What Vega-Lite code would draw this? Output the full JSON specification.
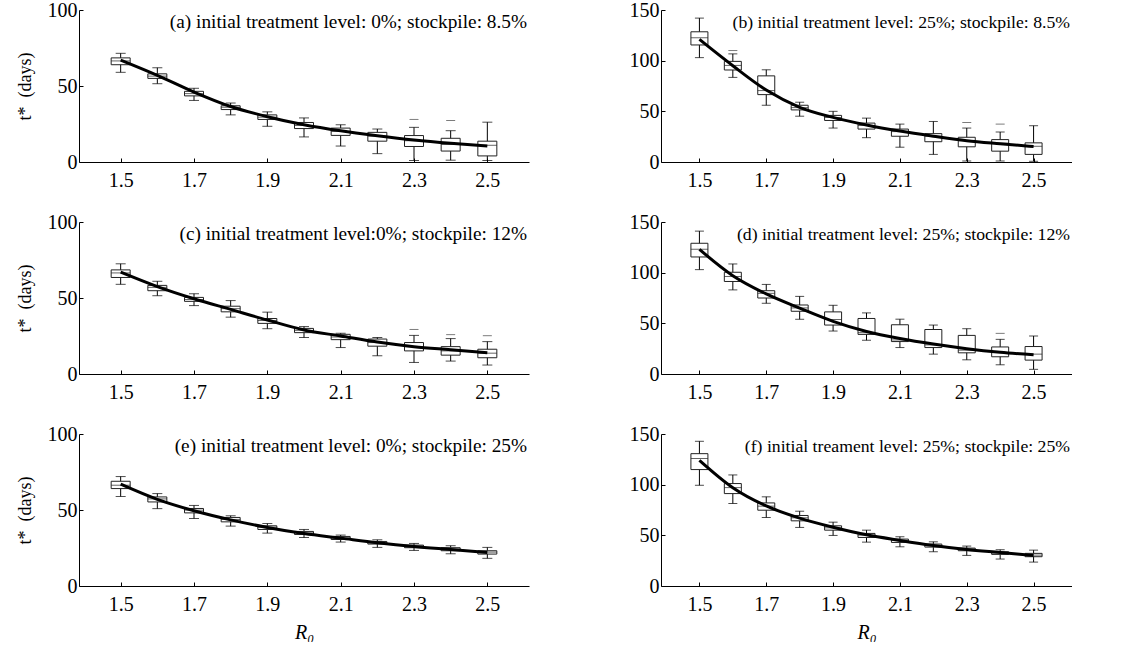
{
"$schema": "https://vega.github.io/schema/vega-lite/v6.json",
"padding": {"left": 16, "top": 0, "right": 0, "bottom": 0},
"background": "white",
"datasets": {
"box": [
{"p":"a","R0":1.5,"lo":59,"q1":64,"med":66.5,"q3":68.5,"hi":71.5},
{"p":"a","R0":1.6,"lo":51.5,"q1":55,"med":56.5,"q3":58,"hi":62},
{"p":"a","R0":1.7,"lo":40.5,"q1":43.5,"med":45,"q3":46.5,"hi":48.5},
{"p":"a","R0":1.8,"lo":31,"q1":34.5,"med":36,"q3":37,"hi":38.8},
{"p":"a","R0":1.9,"lo":23.5,"q1":28,"med":29.5,"q3":31,"hi":33},
{"p":"a","R0":2.0,"lo":16.5,"q1":22,"med":24,"q3":26,"hi":29},
{"p":"a","R0":2.1,"lo":10.5,"q1":17.5,"med":20,"q3":22.3,"hi":24.5},
{"p":"a","R0":2.2,"lo":5.5,"q1":13.7,"med":17,"q3":19.5,"hi":21.7},
{"p":"a","R0":2.3,"lo":1,"q1":10.2,"med":14,"q3":17.4,"hi":22.8},
{"p":"a","R0":2.4,"lo":1.2,"q1":7.2,"med":11.5,"q3":15.6,"hi":20.6},
{"p":"a","R0":2.5,"lo":1,"q1":4,"med":11,"q3":13.7,"hi":26.2},
{"p":"b","R0":1.5,"lo":103,"q1":115.5,"med":122.5,"q3":128.5,"hi":142},
{"p":"b","R0":1.6,"lo":83.5,"q1":90.8,"med":95.3,"q3":99.3,"hi":106.7},
{"p":"b","R0":1.7,"lo":56,"q1":66.5,"med":70.5,"q3":85,"hi":91},
{"p":"b","R0":1.8,"lo":45.2,"q1":51.4,"med":53.7,"q3":56,"hi":59},
{"p":"b","R0":1.9,"lo":33.5,"q1":41,"med":43.9,"q3":46,"hi":50},
{"p":"b","R0":2.0,"lo":24,"q1":32.5,"med":36,"q3":38.4,"hi":43.3},
{"p":"b","R0":2.1,"lo":14.6,"q1":25.4,"med":30,"q3":32.5,"hi":37.4},
{"p":"b","R0":2.2,"lo":7.5,"q1":20,"med":25.4,"q3":28,"hi":40},
{"p":"b","R0":2.3,"lo":1,"q1":15,"med":21,"q3":24.4,"hi":33.5},
{"p":"b","R0":2.4,"lo":1,"q1":10.7,"med":18.5,"q3":22.1,"hi":29.6},
{"p":"b","R0":2.5,"lo":0.7,"q1":7.5,"med":15.5,"q3":18.9,"hi":35.8},
{"p":"c","R0":1.5,"lo":59,"q1":63.5,"med":66.5,"q3":68.5,"hi":72.5},
{"p":"c","R0":1.6,"lo":51.5,"q1":54.8,"med":57,"q3":58.3,"hi":61},
{"p":"c","R0":1.7,"lo":45,"q1":47.8,"med":49,"q3":50.4,"hi":52.8},
{"p":"c","R0":1.8,"lo":37.4,"q1":40.9,"med":43,"q3":44.6,"hi":48.3},
{"p":"c","R0":1.9,"lo":29.8,"q1":33.3,"med":35.2,"q3":36.5,"hi":40.7},
{"p":"c","R0":2.0,"lo":24,"q1":27.2,"med":28.7,"q3":30,"hi":31.2},
{"p":"c","R0":2.1,"lo":17.4,"q1":22.6,"med":24.3,"q3":26.1,"hi":26.8},
{"p":"c","R0":2.2,"lo":12,"q1":18.3,"med":20.7,"q3":23,"hi":24},
{"p":"c","R0":2.3,"lo":7.6,"q1":15.2,"med":18,"q3":20.7,"hi":25.4},
{"p":"c","R0":2.4,"lo":8.5,"q1":12.4,"med":15.2,"q3":18,"hi":23.3},
{"p":"c","R0":2.5,"lo":5.9,"q1":10.7,"med":13.7,"q3":16.3,"hi":21.3},
{"p":"d","R0":1.5,"lo":103,"q1":115.5,"med":123,"q3":129,"hi":141},
{"p":"d","R0":1.6,"lo":83,"q1":91.3,"med":96.2,"q3":100.4,"hi":108.6},
{"p":"d","R0":1.7,"lo":69.8,"q1":75,"med":79.6,"q3":82.2,"hi":88.4},
{"p":"d","R0":1.8,"lo":54,"q1":61.9,"med":65.2,"q3":68.1,"hi":76.6},
{"p":"d","R0":1.9,"lo":42.4,"q1":48.3,"med":53.8,"q3":61.3,"hi":67.8},
{"p":"d","R0":2.0,"lo":33.3,"q1":39.1,"med":40.8,"q3":54.8,"hi":60.3},
{"p":"d","R0":2.1,"lo":26.1,"q1":32,"med":33.6,"q3":48.6,"hi":54.1},
{"p":"d","R0":2.2,"lo":19.6,"q1":26.1,"med":28.7,"q3":43.9,"hi":48.3},
{"p":"d","R0":2.3,"lo":14,"q1":20.9,"med":23.5,"q3":38.1,"hi":44.7},
{"p":"d","R0":2.4,"lo":9.1,"q1":17,"med":21.2,"q3":26.7,"hi":34.2},
{"p":"d","R0":2.5,"lo":4.6,"q1":13.7,"med":19.6,"q3":27.1,"hi":37.5},
{"p":"e","R0":1.5,"lo":58.9,"q1":64.1,"med":66.3,"q3":68.9,"hi":72},
{"p":"e","R0":1.6,"lo":50.9,"q1":55.3,"med":57.3,"q3":58.6,"hi":60.8},
{"p":"e","R0":1.7,"lo":44.4,"q1":48.1,"med":49.9,"q3":51,"hi":53},
{"p":"e","R0":1.8,"lo":39.4,"q1":42.2,"med":43.8,"q3":45.1,"hi":46.2},
{"p":"e","R0":1.9,"lo":34.8,"q1":37.2,"med":38.7,"q3":39.6,"hi":41.1},
{"p":"e","R0":2.0,"lo":31.9,"q1":33.9,"med":35,"q3":35.9,"hi":37.2},
{"p":"e","R0":2.1,"lo":28.9,"q1":30.6,"med":31.7,"q3":32.6,"hi":33.5},
{"p":"e","R0":2.2,"lo":25.4,"q1":27.6,"med":28.4,"q3":29.3,"hi":30.4},
{"p":"e","R0":2.3,"lo":23.4,"q1":25.2,"med":26.3,"q3":26.9,"hi":28},
{"p":"e","R0":2.4,"lo":21.2,"q1":23.2,"med":24.3,"q3":25.2,"hi":26.5},
{"p":"e","R0":2.5,"lo":18.2,"q1":21,"med":22.3,"q3":23.2,"hi":25.4},
{"p":"f","R0":1.5,"lo":99.4,"q1":114.9,"med":125.7,"q3":130.6,"hi":142.8},
{"p":"f","R0":1.6,"lo":81.4,"q1":91.2,"med":97.1,"q3":101.1,"hi":109.6},
{"p":"f","R0":1.7,"lo":67.6,"q1":74.8,"med":78.8,"q3":82,"hi":88},
{"p":"f","R0":1.8,"lo":57.8,"q1":64.3,"med":67.3,"q3":69.6,"hi":73.8},
{"p":"f","R0":1.9,"lo":49.9,"q1":55.1,"med":57.4,"q3":59.4,"hi":63},
{"p":"f","R0":2.0,"lo":43.3,"q1":47.9,"med":50.2,"q3":51.9,"hi":55.1},
{"p":"f","R0":2.1,"lo":38.7,"q1":43,"med":45,"q3":46.3,"hi":48.6},
{"p":"f","R0":2.2,"lo":33.8,"q1":38.4,"med":40,"q3":41.4,"hi":43.6},
{"p":"f","R0":2.3,"lo":30.2,"q1":34.8,"med":36.4,"q3":37.4,"hi":39.4},
{"p":"f","R0":2.4,"lo":26.6,"q1":31.2,"med":32.5,"q3":33.8,"hi":35.8},
{"p":"f","R0":2.5,"lo":23.6,"q1":28.9,"med":30.5,"q3":32.2,"hi":35.4}
],
"out": [
{"p":"a","R0":2.3,"v":28},
{"p":"a","R0":2.4,"v":27.3},
{"p":"b","R0":1.6,"v":110},
{"p":"b","R0":2.3,"v":39},
{"p":"b","R0":2.4,"v":37.4},
{"p":"c","R0":2.3,"v":29.3},
{"p":"c","R0":2.4,"v":25.9},
{"p":"c","R0":2.5,"v":25.2},
{"p":"d","R0":2.4,"v":40.1}
],
"curve": [
{"p":"a","R0":1.5,"t":67},{"p":"a","R0":1.6,"t":57},{"p":"a","R0":1.7,"t":46},{"p":"a","R0":1.8,"t":36.5},{"p":"a","R0":1.9,"t":29.8},{"p":"a","R0":2.0,"t":24.5},{"p":"a","R0":2.1,"t":20.5},{"p":"a","R0":2.2,"t":17.3},{"p":"a","R0":2.3,"t":14.5},{"p":"a","R0":2.4,"t":12.3},{"p":"a","R0":2.5,"t":10.5},
{"p":"b","R0":1.5,"t":121},{"p":"b","R0":1.6,"t":95},{"p":"b","R0":1.7,"t":71},{"p":"b","R0":1.8,"t":54},{"p":"b","R0":1.9,"t":44},{"p":"b","R0":2.0,"t":36.5},{"p":"b","R0":2.1,"t":30.5},{"p":"b","R0":2.2,"t":25.5},{"p":"b","R0":2.3,"t":21},{"p":"b","R0":2.4,"t":18},{"p":"b","R0":2.5,"t":15.3},
{"p":"c","R0":1.5,"t":67},{"p":"c","R0":1.6,"t":57.5},{"p":"c","R0":1.7,"t":49.5},{"p":"c","R0":1.8,"t":42.5},{"p":"c","R0":1.9,"t":35.5},{"p":"c","R0":2.0,"t":29},{"p":"c","R0":2.1,"t":25},{"p":"c","R0":2.2,"t":21},{"p":"c","R0":2.3,"t":18},{"p":"c","R0":2.4,"t":16},{"p":"c","R0":2.5,"t":14},
{"p":"d","R0":1.5,"t":123},{"p":"d","R0":1.6,"t":97},{"p":"d","R0":1.7,"t":79},{"p":"d","R0":1.8,"t":65},{"p":"d","R0":1.9,"t":52},{"p":"d","R0":2.0,"t":42},{"p":"d","R0":2.1,"t":35},{"p":"d","R0":2.2,"t":29.5},{"p":"d","R0":2.3,"t":25},{"p":"d","R0":2.4,"t":21.5},{"p":"d","R0":2.5,"t":19},
{"p":"e","R0":1.5,"t":67},{"p":"e","R0":1.6,"t":57},{"p":"e","R0":1.7,"t":49.5},{"p":"e","R0":1.8,"t":43.5},{"p":"e","R0":1.9,"t":38.5},{"p":"e","R0":2.0,"t":34.5},{"p":"e","R0":2.1,"t":31.5},{"p":"e","R0":2.2,"t":28.5},{"p":"e","R0":2.3,"t":26},{"p":"e","R0":2.4,"t":24},{"p":"e","R0":2.5,"t":22},
{"p":"f","R0":1.5,"t":124},{"p":"f","R0":1.6,"t":97},{"p":"f","R0":1.7,"t":79},{"p":"f","R0":1.8,"t":67},{"p":"f","R0":1.9,"t":58},{"p":"f","R0":2.0,"t":50.5},{"p":"f","R0":2.1,"t":45},{"p":"f","R0":2.2,"t":40},{"p":"f","R0":2.3,"t":36},{"p":"f","R0":2.4,"t":33},{"p":"f","R0":2.5,"t":30}
]
},
"columns": 2,
"spacing": {"row": 60, "column": 132},
"bounds": "flush",
"align": "each",
"concat": [
{"width": 450, "height": 152, "title": {"text": "(a) initial treatment level: 0%; stockpile: 8.5%", "fontSize": 19.3},
 "encoding": {"x": {"field": "R0", "type": "quantitative", "scale": {"domain": [1.4, 2.6], "nice": false, "zero": false}, "axis": {"values": [1.5,1.7,1.9,2.1,2.3,2.5], "format": ".1f", "title": null}}},
 "layer": [
  {"data": {"name": "box"}, "transform": [{"filter": "datum.p==='a'"}], "mark": {"type": "rule", "color": "black", "strokeWidth": 1}, "encoding": {"y": {"field": "lo", "type": "quantitative", "title": "t*\u00a0\u00a0(days)", "scale": {"domain": [0,100], "nice": false}, "axis": {"values": [0,50,100]}}, "y2": {"field": "hi"}}},
  {"data": {"name": "box"}, "transform": [{"filter": "datum.p==='a'"}], "mark": {"type": "tick", "orient": "horizontal", "size": 10, "thickness": 1, "color": "black"}, "encoding": {"y": {"field": "lo", "type": "quantitative", "title": "t*\u00a0\u00a0(days)", "scale": {"domain": [0,100], "nice": false}}}},
  {"data": {"name": "box"}, "transform": [{"filter": "datum.p==='a'"}], "mark": {"type": "tick", "orient": "horizontal", "size": 10, "thickness": 1, "color": "black"}, "encoding": {"y": {"field": "hi", "type": "quantitative", "title": "t*\u00a0\u00a0(days)", "scale": {"domain": [0,100], "nice": false}}}},
  {"data": {"name": "box"}, "transform": [{"filter": "datum.p==='a'"}], "mark": {"type": "bar", "orient": "vertical", "size": 19, "fill": "white", "stroke": "#222", "strokeWidth": 1}, "encoding": {"y": {"field": "q1", "type": "quantitative", "title": "t*\u00a0\u00a0(days)", "scale": {"domain": [0,100], "nice": false}}, "y2": {"field": "q3"}}},
  {"data": {"name": "box"}, "transform": [{"filter": "datum.p==='a'"}], "mark": {"type": "tick", "orient": "horizontal", "size": 19, "thickness": 1, "color": "#222"}, "encoding": {"y": {"field": "med", "type": "quantitative", "title": "t*\u00a0\u00a0(days)", "scale": {"domain": [0,100], "nice": false}}}},
  {"data": {"name": "out"}, "transform": [{"filter": "datum.p==='a'"}], "mark": {"type": "tick", "orient": "horizontal", "size": 9, "thickness": 1, "strokeDash": [3,3], "color": "#444"}, "encoding": {"y": {"field": "v", "type": "quantitative", "title": "t*\u00a0\u00a0(days)", "scale": {"domain": [0,100], "nice": false}}}},
  {"data": {"name": "curve"}, "transform": [{"filter": "datum.p==='a'"}], "mark": {"type": "line", "color": "black", "strokeWidth": 3, "interpolate": "monotone"}, "encoding": {"y": {"field": "t", "type": "quantitative", "title": "t*\u00a0\u00a0(days)", "scale": {"domain": [0,100], "nice": false}}}}
 ]},
{"width": 411, "height": 152, "title": {"text": "(b) initial treatment level: 25%; stockpile: 8.5%", "fontSize": 17.7},
 "encoding": {"x": {"field": "R0", "type": "quantitative", "scale": {"domain": [1.4, 2.6], "nice": false, "zero": false}, "axis": {"values": [1.5,1.7,1.9,2.1,2.3,2.5], "format": ".1f", "title": null}}},
 "layer": [
  {"data": {"name": "box"}, "transform": [{"filter": "datum.p==='b'"}], "mark": {"type": "rule", "color": "black", "strokeWidth": 1}, "encoding": {"y": {"field": "lo", "type": "quantitative", "title": null, "scale": {"domain": [0,150], "nice": false}, "axis": {"values": [0,50,100,150]}}, "y2": {"field": "hi"}}},
  {"data": {"name": "box"}, "transform": [{"filter": "datum.p==='b'"}], "mark": {"type": "tick", "orient": "horizontal", "size": 9, "thickness": 1, "color": "black"}, "encoding": {"y": {"field": "lo", "type": "quantitative", "title": null, "scale": {"domain": [0,150], "nice": false}}}},
  {"data": {"name": "box"}, "transform": [{"filter": "datum.p==='b'"}], "mark": {"type": "tick", "orient": "horizontal", "size": 9, "thickness": 1, "color": "black"}, "encoding": {"y": {"field": "hi", "type": "quantitative", "title": null, "scale": {"domain": [0,150], "nice": false}}}},
  {"data": {"name": "box"}, "transform": [{"filter": "datum.p==='b'"}], "mark": {"type": "bar", "orient": "vertical", "size": 17, "fill": "white", "stroke": "#222", "strokeWidth": 1}, "encoding": {"y": {"field": "q1", "type": "quantitative", "title": null, "scale": {"domain": [0,150], "nice": false}}, "y2": {"field": "q3"}}},
  {"data": {"name": "box"}, "transform": [{"filter": "datum.p==='b'"}], "mark": {"type": "tick", "orient": "horizontal", "size": 17, "thickness": 1, "color": "#222"}, "encoding": {"y": {"field": "med", "type": "quantitative", "title": null, "scale": {"domain": [0,150], "nice": false}}}},
  {"data": {"name": "out"}, "transform": [{"filter": "datum.p==='b'"}], "mark": {"type": "tick", "orient": "horizontal", "size": 9, "thickness": 1, "strokeDash": [3,3], "color": "#444"}, "encoding": {"y": {"field": "v", "type": "quantitative", "title": null, "scale": {"domain": [0,150], "nice": false}}}},
  {"data": {"name": "curve"}, "transform": [{"filter": "datum.p==='b'"}], "mark": {"type": "line", "color": "black", "strokeWidth": 3, "interpolate": "monotone"}, "encoding": {"y": {"field": "t", "type": "quantitative", "title": null, "scale": {"domain": [0,150], "nice": false}}}}
 ]},
{"width": 450, "height": 152, "title": {"text": "(c) initial treatment level:0%; stockpile: 12%", "fontSize": 19.3},
 "encoding": {"x": {"field": "R0", "type": "quantitative", "scale": {"domain": [1.4, 2.6], "nice": false, "zero": false}, "axis": {"values": [1.5,1.7,1.9,2.1,2.3,2.5], "format": ".1f", "title": null}}},
 "layer": [
  {"data": {"name": "box"}, "transform": [{"filter": "datum.p==='c'"}], "mark": {"type": "rule", "color": "black", "strokeWidth": 1}, "encoding": {"y": {"field": "lo", "type": "quantitative", "title": "t*\u00a0\u00a0(days)", "scale": {"domain": [0,100], "nice": false}, "axis": {"values": [0,50,100]}}, "y2": {"field": "hi"}}},
  {"data": {"name": "box"}, "transform": [{"filter": "datum.p==='c'"}], "mark": {"type": "tick", "orient": "horizontal", "size": 10, "thickness": 1, "color": "black"}, "encoding": {"y": {"field": "lo", "type": "quantitative", "title": "t*\u00a0\u00a0(days)", "scale": {"domain": [0,100], "nice": false}}}},
  {"data": {"name": "box"}, "transform": [{"filter": "datum.p==='c'"}], "mark": {"type": "tick", "orient": "horizontal", "size": 10, "thickness": 1, "color": "black"}, "encoding": {"y": {"field": "hi", "type": "quantitative", "title": "t*\u00a0\u00a0(days)", "scale": {"domain": [0,100], "nice": false}}}},
  {"data": {"name": "box"}, "transform": [{"filter": "datum.p==='c'"}], "mark": {"type": "bar", "orient": "vertical", "size": 19, "fill": "white", "stroke": "#222", "strokeWidth": 1}, "encoding": {"y": {"field": "q1", "type": "quantitative", "title": "t*\u00a0\u00a0(days)", "scale": {"domain": [0,100], "nice": false}}, "y2": {"field": "q3"}}},
  {"data": {"name": "box"}, "transform": [{"filter": "datum.p==='c'"}], "mark": {"type": "tick", "orient": "horizontal", "size": 19, "thickness": 1, "color": "#222"}, "encoding": {"y": {"field": "med", "type": "quantitative", "title": "t*\u00a0\u00a0(days)", "scale": {"domain": [0,100], "nice": false}}}},
  {"data": {"name": "out"}, "transform": [{"filter": "datum.p==='c'"}], "mark": {"type": "tick", "orient": "horizontal", "size": 9, "thickness": 1, "strokeDash": [3,3], "color": "#444"}, "encoding": {"y": {"field": "v", "type": "quantitative", "title": "t*\u00a0\u00a0(days)", "scale": {"domain": [0,100], "nice": false}}}},
  {"data": {"name": "curve"}, "transform": [{"filter": "datum.p==='c'"}], "mark": {"type": "line", "color": "black", "strokeWidth": 3, "interpolate": "monotone"}, "encoding": {"y": {"field": "t", "type": "quantitative", "title": "t*\u00a0\u00a0(days)", "scale": {"domain": [0,100], "nice": false}}}}
 ]},
{"width": 411, "height": 152, "title": {"text": "(d) initial treatment level: 25%; stockpile: 12%", "fontSize": 17.7},
 "encoding": {"x": {"field": "R0", "type": "quantitative", "scale": {"domain": [1.4, 2.6], "nice": false, "zero": false}, "axis": {"values": [1.5,1.7,1.9,2.1,2.3,2.5], "format": ".1f", "title": null}}},
 "layer": [
  {"data": {"name": "box"}, "transform": [{"filter": "datum.p==='d'"}], "mark": {"type": "rule", "color": "black", "strokeWidth": 1}, "encoding": {"y": {"field": "lo", "type": "quantitative", "title": null, "scale": {"domain": [0,150], "nice": false}, "axis": {"values": [0,50,100,150]}}, "y2": {"field": "hi"}}},
  {"data": {"name": "box"}, "transform": [{"filter": "datum.p==='d'"}], "mark": {"type": "tick", "orient": "horizontal", "size": 9, "thickness": 1, "color": "black"}, "encoding": {"y": {"field": "lo", "type": "quantitative", "title": null, "scale": {"domain": [0,150], "nice": false}}}},
  {"data": {"name": "box"}, "transform": [{"filter": "datum.p==='d'"}], "mark": {"type": "tick", "orient": "horizontal", "size": 9, "thickness": 1, "color": "black"}, "encoding": {"y": {"field": "hi", "type": "quantitative", "title": null, "scale": {"domain": [0,150], "nice": false}}}},
  {"data": {"name": "box"}, "transform": [{"filter": "datum.p==='d'"}], "mark": {"type": "bar", "orient": "vertical", "size": 17, "fill": "white", "stroke": "#222", "strokeWidth": 1}, "encoding": {"y": {"field": "q1", "type": "quantitative", "title": null, "scale": {"domain": [0,150], "nice": false}}, "y2": {"field": "q3"}}},
  {"data": {"name": "box"}, "transform": [{"filter": "datum.p==='d'"}], "mark": {"type": "tick", "orient": "horizontal", "size": 17, "thickness": 1, "color": "#222"}, "encoding": {"y": {"field": "med", "type": "quantitative", "title": null, "scale": {"domain": [0,150], "nice": false}}}},
  {"data": {"name": "out"}, "transform": [{"filter": "datum.p==='d'"}], "mark": {"type": "tick", "orient": "horizontal", "size": 9, "thickness": 1, "strokeDash": [3,3], "color": "#444"}, "encoding": {"y": {"field": "v", "type": "quantitative", "title": null, "scale": {"domain": [0,150], "nice": false}}}},
  {"data": {"name": "curve"}, "transform": [{"filter": "datum.p==='d'"}], "mark": {"type": "line", "color": "black", "strokeWidth": 3, "interpolate": "monotone"}, "encoding": {"y": {"field": "t", "type": "quantitative", "title": null, "scale": {"domain": [0,150], "nice": false}}}}
 ]},
{"width": 450, "height": 152, "title": {"text": "(e) initial treatment level: 0%; stockpile: 25%", "fontSize": 19.3},
 "encoding": {"x": {"field": "R0", "type": "quantitative", "scale": {"domain": [1.4, 2.6], "nice": false, "zero": false}, "axis": {"values": [1.5,1.7,1.9,2.1,2.3,2.5], "format": ".1f", "title": "R₀"}}},
 "layer": [
  {"data": {"name": "box"}, "transform": [{"filter": "datum.p==='e'"}], "mark": {"type": "rule", "color": "black", "strokeWidth": 1}, "encoding": {"y": {"field": "lo", "type": "quantitative", "title": "t*\u00a0\u00a0(days)", "scale": {"domain": [0,100], "nice": false}, "axis": {"values": [0,50,100]}}, "y2": {"field": "hi"}}},
  {"data": {"name": "box"}, "transform": [{"filter": "datum.p==='e'"}], "mark": {"type": "tick", "orient": "horizontal", "size": 10, "thickness": 1, "color": "black"}, "encoding": {"y": {"field": "lo", "type": "quantitative", "title": "t*\u00a0\u00a0(days)", "scale": {"domain": [0,100], "nice": false}}}},
  {"data": {"name": "box"}, "transform": [{"filter": "datum.p==='e'"}], "mark": {"type": "tick", "orient": "horizontal", "size": 10, "thickness": 1, "color": "black"}, "encoding": {"y": {"field": "hi", "type": "quantitative", "title": "t*\u00a0\u00a0(days)", "scale": {"domain": [0,100], "nice": false}}}},
  {"data": {"name": "box"}, "transform": [{"filter": "datum.p==='e'"}], "mark": {"type": "bar", "orient": "vertical", "size": 19, "fill": "white", "stroke": "#222", "strokeWidth": 1}, "encoding": {"y": {"field": "q1", "type": "quantitative", "title": "t*\u00a0\u00a0(days)", "scale": {"domain": [0,100], "nice": false}}, "y2": {"field": "q3"}}},
  {"data": {"name": "box"}, "transform": [{"filter": "datum.p==='e'"}], "mark": {"type": "tick", "orient": "horizontal", "size": 19, "thickness": 1, "color": "#222"}, "encoding": {"y": {"field": "med", "type": "quantitative", "title": "t*\u00a0\u00a0(days)", "scale": {"domain": [0,100], "nice": false}}}},
  {"data": {"name": "curve"}, "transform": [{"filter": "datum.p==='e'"}], "mark": {"type": "line", "color": "black", "strokeWidth": 3, "interpolate": "monotone"}, "encoding": {"y": {"field": "t", "type": "quantitative", "title": "t*\u00a0\u00a0(days)", "scale": {"domain": [0,100], "nice": false}}}}
 ]},
{"width": 411, "height": 152, "title": {"text": "(f) initial treament level: 25%; stockpile: 25%", "fontSize": 17.7},
 "encoding": {"x": {"field": "R0", "type": "quantitative", "scale": {"domain": [1.4, 2.6], "nice": false, "zero": false}, "axis": {"values": [1.5,1.7,1.9,2.1,2.3,2.5], "format": ".1f", "title": "R₀"}}},
 "layer": [
  {"data": {"name": "box"}, "transform": [{"filter": "datum.p==='f'"}], "mark": {"type": "rule", "color": "black", "strokeWidth": 1}, "encoding": {"y": {"field": "lo", "type": "quantitative", "title": null, "scale": {"domain": [0,150], "nice": false}, "axis": {"values": [0,50,100,150]}}, "y2": {"field": "hi"}}},
  {"data": {"name": "box"}, "transform": [{"filter": "datum.p==='f'"}], "mark": {"type": "tick", "orient": "horizontal", "size": 9, "thickness": 1, "color": "black"}, "encoding": {"y": {"field": "lo", "type": "quantitative", "title": null, "scale": {"domain": [0,150], "nice": false}}}},
  {"data": {"name": "box"}, "transform": [{"filter": "datum.p==='f'"}], "mark": {"type": "tick", "orient": "horizontal", "size": 9, "thickness": 1, "color": "black"}, "encoding": {"y": {"field": "hi", "type": "quantitative", "title": null, "scale": {"domain": [0,150], "nice": false}}}},
  {"data": {"name": "box"}, "transform": [{"filter": "datum.p==='f'"}], "mark": {"type": "bar", "orient": "vertical", "size": 17, "fill": "white", "stroke": "#222", "strokeWidth": 1}, "encoding": {"y": {"field": "q1", "type": "quantitative", "title": null, "scale": {"domain": [0,150], "nice": false}}, "y2": {"field": "q3"}}},
  {"data": {"name": "box"}, "transform": [{"filter": "datum.p==='f'"}], "mark": {"type": "tick", "orient": "horizontal", "size": 17, "thickness": 1, "color": "#222"}, "encoding": {"y": {"field": "med", "type": "quantitative", "title": null, "scale": {"domain": [0,150], "nice": false}}}},
  {"data": {"name": "curve"}, "transform": [{"filter": "datum.p==='f'"}], "mark": {"type": "line", "color": "black", "strokeWidth": 3, "interpolate": "monotone"}, "encoding": {"y": {"field": "t", "type": "quantitative", "title": null, "scale": {"domain": [0,150], "nice": false}}}}
 ]}
],
"config": {
 "view": {"stroke": null},
 "font": "Liberation Serif",
 "title": {"font": "Liberation Serif", "fontSize": 18, "fontWeight": "normal", "color": "black", "anchor": "end", "frame": "group", "offset": -32, "dx": -2, "baseline": "alphabetic"},
 "axis": {"grid": false, "domainColor": "black", "domainWidth": 1, "tickColor": "black", "tickWidth": 1, "tickSize": -4, "labelColor": "black", "titleColor": "black", "labelFont": "Liberation Serif", "titleFont": "Liberation Serif", "labelFontSize": 20, "titleFontWeight": "normal"},
 "axisX": {"labelPadding": 12, "titleFontSize": 20, "titleFontStyle": "italic", "titlePadding": 8},
 "axisY": {"labelPadding": 6, "titleFontSize": 18, "titlePadding": 13}
}
}
